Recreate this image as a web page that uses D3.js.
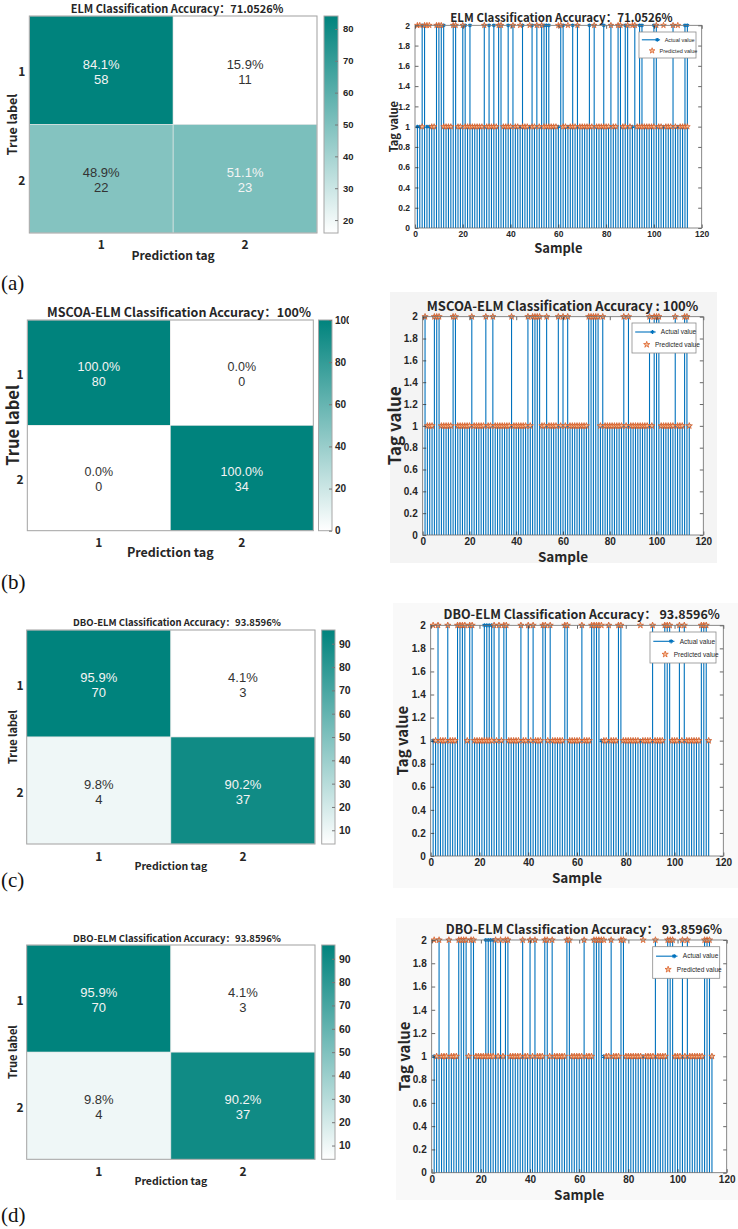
<!DOCTYPE html>
<html lang="en">
<head>
<meta charset="UTF-8">
<title>ELM / MSCOA-ELM / DBO-ELM classification</title>
<style>
  * { padding: 0; margin: 0; }
  body { background: #fff; }
  #app { width: 738px; height: 1229px; }
  #app svg { display: block; }
  text { font-family: "Liberation Sans", Arial, sans-serif; }
  .cjk { font-family: "Noto Sans CJK SC", "Noto Sans", sans-serif; font-weight: 700; }
  .serif { font-family: "Liberation Serif", "Times New Roman", serif; }
</style>
</head>
<body>
<div id="app"></div>
<script src="https://cdn.jsdelivr.net/npm/d3@7/dist/d3.min.js"></script>
<script>
  // ---- data ----
  var classLabels = ["1", "2"];
  var nSamples = 114;
  var tagTicks = [0, 0.2, 0.4, 0.6, 0.8, 1, 1.2, 1.4, 1.6, 1.8, 2];
  var sampleTicks = [0, 20, 40, 60, 80, 100, 120];

  // confusion counts, rows = true label, cols = predicted
  var aCounts = [[58, 11], [22, 23]];
  var bCounts = [[80, 0], [0, 34]];
  var cCounts = [[70, 3], [4, 37]];
  var dCounts = [[70, 3], [4, 37]];

  var aColorTicks = [20, 30, 40, 50, 60, 70, 80];
  var bColorTicks = [0, 20, 40, 60, 80, 100];
  var cColorTicks = [10, 20, 30, 40, 50, 60, 70, 80, 90];
  var dColorTicks = [10, 20, 30, 40, 50, 60, 70, 80, 90];

  // samples whose tag is 2 (all other samples are 1)
  var aActual2 = [3, 4, 9, 10, 11, 12, 16, 17, 20, 21, 23, 29, 31, 33, 35, 36, 39, 41, 45, 49, 51, 53, 54, 55, 56,
    61, 62, 66, 68, 73, 75, 79, 82, 85, 86, 88, 89, 92, 94, 95, 100, 101, 108, 113, 114];
  var aPred2 = [1, 2, 4, 5, 6, 9, 10, 11, 16, 17, 20, 29, 35, 36, 41, 44, 48, 51, 53, 60, 61, 64, 68, 75, 82, 85,
    86, 89, 91, 92, 101, 104, 108, 110];
  var bActual2 = [1, 5, 6, 7, 13, 14, 21, 27, 30, 38, 45, 47, 48, 49, 50, 53, 58, 60, 62, 71, 72, 73, 74, 75, 77,
    86, 88, 97, 99, 100, 101, 108, 112, 113];
  var bPred2 = [1, 5, 6, 7, 13, 14, 21, 27, 30, 38, 45, 47, 48, 49, 50, 53, 58, 60, 62, 71, 72, 73, 74, 75, 77,
    86, 88, 97, 99, 100, 101, 108, 112, 113];
  var cActual2 = [3, 7, 11, 12, 13, 14, 16, 17, 22, 23, 24, 25, 26, 28, 30, 31, 37, 40, 42, 46, 47, 49, 55, 56, 62,
    66, 67, 68, 69, 73, 77, 78, 91, 96, 97, 98, 102, 104, 111, 112, 113];
  var cPred2 = [1, 3, 7, 11, 12, 13, 14, 16, 17, 26, 28, 30, 31, 37, 40, 42, 46, 47, 49, 55, 56, 62, 66, 67, 68,
    69, 70, 73, 77, 78, 86, 91, 96, 97, 98, 102, 104, 111, 112, 113];
  var dActual2 = [3, 7, 11, 12, 13, 14, 16, 17, 22, 23, 24, 25, 26, 28, 30, 31, 37, 40, 42, 46, 47, 49, 55, 56, 62,
    66, 67, 68, 69, 73, 77, 78, 91, 96, 97, 98, 102, 104, 111, 112, 113];
  var dPred2 = [1, 3, 7, 11, 12, 13, 14, 16, 17, 26, 28, 30, 31, 37, 40, 42, 46, 47, 49, 55, 56, 62, 66, 67, 68,
    69, 70, 73, 77, 78, 86, 91, 96, 97, 98, 102, 104, 111, 112, 113];

  var teal = "#00837d";
  var stemBlue = "#0072bd";
  var predOrange = "#d95319";
  var ink = "#262626";

  var svg = d3.select("#app").append("svg").attr("width", 738).attr("height", 1229);
  var defs = svg.append("defs");

  function drawMatrix(cfg, id) {
    var pct = cfg.counts.map(function (r) {
      var s = d3.sum(r);
      return r.map(function (v) { return s ? v / s * 100 : 0; });
    });
    var flat = [].concat.apply([], pct);
    var lo = d3.min(flat), hi = d3.max(flat);
    var color = d3.scaleLinear().domain([lo, hi]).range(["#ffffff", teal]);
    var x = d3.scaleBand().domain(classLabels).range([cfg.x0, cfg.x1]);
    var y = d3.scaleBand().domain(classLabels).range([cfg.y0, cfg.y1]);
    var g = svg.append("g");

    var cells = d3.cross(d3.range(2), d3.range(2)).map(function (p) {
      return { r: p[0], c: p[1], n: cfg.counts[p[0]][p[1]], p: pct[p[0]][p[1]] };
    });
    g.selectAll("rect.cell").data(cells).join("rect")
      .attr("x", d => x(classLabels[d.c])).attr("y", d => y(classLabels[d.r]))
      .attr("width", x.bandwidth()).attr("height", y.bandwidth())
      .attr("fill", d => color(d.p)).attr("stroke", "#e8e8e8").attr("stroke-width", 0.6);
    g.append("rect").attr("x", cfg.x0).attr("y", cfg.y0)
      .attr("width", cfg.x1 - cfg.x0).attr("height", cfg.y1 - cfg.y0)
      .attr("fill", "none").attr("stroke", "#a6a6a6").attr("stroke-width", 1);

    var txt = g.selectAll("g.ctext").data(cells).join("g")
      .attr("transform", d => "translate(" + (x(classLabels[d.c]) + x.bandwidth() / 2) + "," +
        (y(classLabels[d.r]) + y.bandwidth() / 2 + 1) + ")")
      .attr("fill", d => (d.p - lo) / (hi - lo) > 0.5 ? "#f4f4f4" : "#333333")
      .attr("font-size", cfg.cellSize).attr("text-anchor", "middle");
    txt.append("text").attr("y", -7).attr("dy", "0.35em").text(d => d.p.toFixed(1) + "%");
    txt.append("text").attr("y", 8).attr("dy", "0.35em").text(d => d.n);

    // labels
    g.append("text").attr("class", "cjk").attr("x", cfg.titleX).attr("y", cfg.titleY).attr("dy", "0.35em")
      .attr("text-anchor", "middle").attr("font-size", cfg.titleSize).attr("fill", ink).text(cfg.title);
    g.selectAll("text.rowlab").data(classLabels).join("text").attr("class", "cjk")
      .attr("x", cfg.rowLabelX).attr("y", d => y(d) + y.bandwidth() / 2 + 2).attr("dy", "0.35em")
      .attr("text-anchor", "middle").attr("font-size", cfg.labelSize).attr("fill", ink).text(d => d);
    g.selectAll("text.collab").data(classLabels).join("text").attr("class", "cjk")
      .attr("x", d => x(d) + x.bandwidth() / 2).attr("y", cfg.tickLabelY).attr("dy", "0.35em")
      .attr("text-anchor", "middle").attr("font-size", cfg.labelSize).attr("fill", ink).text(d => d);
    g.append("text").attr("class", "cjk")
      .attr("transform", "translate(" + cfg.trueLabelX + "," + (cfg.y0 + cfg.y1) / 2 + ") rotate(-90)")
      .attr("dy", "0.35em").attr("text-anchor", "middle").attr("font-size", cfg.trueSize)
      .attr("fill", ink).text("True label");
    g.append("text").attr("class", "cjk").attr("x", (cfg.x0 + cfg.x1) / 2).attr("y", cfg.predY)
      .attr("dy", "0.35em").attr("text-anchor", "middle").attr("font-size", cfg.predSize)
      .attr("fill", ink).text("Prediction tag");

    // colour bar
    var grad = defs.append("linearGradient").attr("id", "cb" + id)
      .attr("x1", 0).attr("y1", 1).attr("x2", 0).attr("y2", 0);
    grad.append("stop").attr("offset", 0).attr("stop-color", "#ffffff");
    grad.append("stop").attr("offset", 1).attr("stop-color", teal);
    g.append("rect").attr("x", cfg.cbX0).attr("y", cfg.y0)
      .attr("width", cfg.cbX1 - cfg.cbX0).attr("height", cfg.y1 - cfg.y0)
      .attr("fill", "url(#cb" + id + ")").attr("stroke", "#a6a6a6");
    var cy = d3.scaleLinear().domain([lo, hi]).range([cfg.y1, cfg.y0]);
    defs.append("clipPath").attr("id", "cbclip" + id).append("rect")
      .attr("x", cfg.cbX0).attr("y", cfg.y0 - 20)
      .attr("width", cfg.clipRight - cfg.cbX0).attr("height", cfg.y1 - cfg.y0 + 40);
    var ax = g.append("g").attr("clip-path", "url(#cbclip" + id + ")")
      .append("g").attr("transform", "translate(" + cfg.cbX1 + ",0)")
      .call(d3.axisRight(cy).tickValues(cfg.ticks).tickSizeInner(-3).tickSizeOuter(0).tickPadding(cfg.cbPad));
    ax.select(".domain").remove();
    ax.selectAll("line").attr("stroke", "#777");
    ax.selectAll("text").attr("font-size", cfg.cbTickSize).attr("font-weight", 700).attr("fill", ink);
  }

  function drawStem(cfg) {
    var actual = d3.range(1, nSamples + 1).map(i => ({ i: i, v: cfg.actual2.indexOf(i) >= 0 ? 2 : 1 }));
    var pred = d3.range(1, nSamples + 1).map(i => ({ i: i, v: cfg.pred2.indexOf(i) >= 0 ? 2 : 1 }));
    var x = d3.scaleLinear().domain([0, 120]).range([cfg.x0, cfg.x1]);
    var y = d3.scaleLinear().domain([0, 2]).range([cfg.y1, cfg.y0]);
    var g = svg.append("g");

    if (cfg.bg) {
      g.append("rect").attr("x", cfg.bg[0]).attr("y", cfg.bg[1]).attr("width", cfg.bg[2])
        .attr("height", cfg.bg[3]).attr("fill", cfg.bgColor);
    }
    g.append("rect").attr("x", cfg.x0).attr("y", cfg.y0)
      .attr("width", cfg.x1 - cfg.x0).attr("height", cfg.y1 - cfg.y0).attr("fill", "#fff");

    g.selectAll("line.stem").data(actual).join("line")
      .attr("x1", d => x(d.i)).attr("x2", d => x(d.i))
      .attr("y1", y(0)).attr("y2", d => y(d.v))
      .attr("stroke", stemBlue).attr("stroke-width", 1.1);

    var ast = d3.symbol().type(d3.symbolAsterisk || d3.symbolCross).size(cfg.markSize);
    var star = d3.symbol().type(d3.symbolStar).size(cfg.markSize);
    g.selectAll("path.act").data(actual).join("path")
      .attr("transform", d => "translate(" + x(d.i) + "," + y(d.v) + ")")
      .attr("d", ast).attr("fill", stemBlue).attr("stroke", stemBlue).attr("stroke-width", 1.2);
    g.selectAll("path.pred").data(pred).join("path")
      .attr("transform", d => "translate(" + x(d.i) + "," + y(d.v) + ")")
      .attr("d", star).attr("fill", "#f6c09a").attr("stroke", predOrange).attr("stroke-width", 0.7);

    // axes, ticks pointing inward like MATLAB with box on
    function style(a) {
      a.select(".domain").remove();
      a.selectAll("line").attr("stroke", ink).attr("stroke-width", 0.7);
      a.selectAll("text").attr("font-size", cfg.tickSize).attr("font-weight", 700).attr("fill", ink);
    }
    var fmt = d3.format("~g");
    g.append("g").attr("transform", "translate(0," + cfg.y1 + ")")
      .call(d3.axisBottom(x).tickValues(sampleTicks).tickFormat(fmt).tickSizeInner(-3.5).tickSizeOuter(0).tickPadding(3))
      .call(style);
    g.append("g").attr("transform", "translate(" + cfg.x0 + ",0)")
      .call(d3.axisLeft(y).tickValues(tagTicks).tickFormat(fmt).tickSizeInner(-3.5).tickSizeOuter(0).tickPadding(5))
      .call(style);
    g.append("g").attr("transform", "translate(0," + cfg.y0 + ")")
      .call(d3.axisTop(x).tickValues(sampleTicks).tickFormat("").tickSizeInner(-3.5).tickSizeOuter(0))
      .call(style);
    g.append("g").attr("transform", "translate(" + cfg.x1 + ",0)")
      .call(d3.axisRight(y).tickValues(tagTicks).tickFormat("").tickSizeInner(-3.5).tickSizeOuter(0))
      .call(style);
    g.append("rect").attr("x", cfg.x0).attr("y", cfg.y0)
      .attr("width", cfg.x1 - cfg.x0).attr("height", cfg.y1 - cfg.y0)
      .attr("fill", "none").attr("stroke", "#6b6b6b").attr("stroke-width", 0.8);

    g.append("text").attr("class", "cjk").attr("x", cfg.titleX).attr("y", cfg.titleY).attr("dy", "0.35em")
      .attr("text-anchor", "middle").attr("font-size", cfg.titleSize).attr("fill", ink).text(cfg.title);
    g.append("text").attr("class", "cjk")
      .attr("transform", "translate(" + cfg.tagX + "," + (cfg.y0 + cfg.y1) / 2 + ") rotate(-90)")
      .attr("dy", "0.35em").attr("text-anchor", "middle").attr("font-size", cfg.tagSize)
      .attr("fill", ink).text("Tag value");
    g.append("text").attr("class", "cjk").attr("x", (cfg.x0 + cfg.x1) / 2).attr("y", cfg.sampleY)
      .attr("dy", "0.35em").attr("text-anchor", "middle").attr("font-size", cfg.sampleSize)
      .attr("fill", ink).text("Sample");

    // legend
    var L = cfg.leg, lg = g.append("g").attr("transform", "translate(" + L[0] + "," + L[1] + ")");
    lg.append("rect").attr("width", L[2]).attr("height", L[3]).attr("fill", "#fff")
      .attr("stroke", "#8c8c8c").attr("stroke-width", 0.8);
    var r1 = L[3] * 0.3, r2 = L[3] * 0.72;
    lg.append("line").attr("x1", L[2] * 0.05).attr("x2", L[2] * 0.37).attr("y1", r1).attr("y2", r1)
      .attr("stroke", stemBlue).attr("stroke-width", 1.1);
    lg.append("path").attr("transform", "translate(" + L[2] * 0.32 + "," + r1 + ")")
      .attr("d", ast).attr("fill", stemBlue).attr("stroke", stemBlue).attr("stroke-width", 1.2);
    lg.append("path").attr("transform", "translate(" + L[2] * 0.23 + "," + r2 + ")")
      .attr("d", star).attr("fill", "#f6c09a").attr("stroke", predOrange).attr("stroke-width", 0.7);
    lg.append("text").attr("x", L[2] * 0.45).attr("y", r1).attr("dy", "0.35em")
      .attr("font-size", cfg.legSize).attr("fill", ink).text("Actual value");
    lg.append("text").attr("x", L[2] * 0.36).attr("y", r2).attr("dy", "0.35em")
      .attr("font-size", cfg.legSize).attr("fill", ink).text("Predicted value");
  }

  function panelLabel(txt, yb) {
    svg.append("text").attr("class", "serif").attr("x", 1).attr("y", yb)
      .attr("font-size", 21).attr("fill", "#111").text(txt);
  }

  // ---- layout ----
  drawMatrix({ counts: aCounts, ticks: aColorTicks, title: "ELM Classification Accuracy：71.0526%",
    x0: 29.3, x1: 317, y0: 16, y1: 233, cbX0: 324, cbX1: 338, clipRight: 370, cbPad: 5,
    titleX: 177, titleY: 9.5, titleSize: 11, rowLabelX: 21.7, labelSize: 12, trueLabelX: 13, trueSize: 12.5,
    tickLabelY: 245, predY: 255.5, predSize: 12, cellSize: 13, cbTickSize: 9.5 }, "a");
  drawStem({ actual2: aActual2, pred2: aPred2, title: "ELM Classification Accuracy：71.0526%",
    x0: 415, x1: 701.7, y0: 25.3, y1: 228, titleX: 561.5, titleY: 17.5, titleSize: 11.5,
    tickSize: 8.5, tagX: 394, tagSize: 11, sampleY: 248.5, sampleSize: 13, markSize: 10,
    leg: [639, 32, 57, 26], legSize: 5.5 });

  drawMatrix({ counts: bCounts, ticks: bColorTicks, title: "MSCOA-ELM Classification Accuracy：100%",
    x0: 27.3, x1: 313.3, y0: 320, y1: 530.7, cbX0: 318.5, cbX1: 332, clipRight: 349, cbPad: 3,
    titleX: 179, titleY: 312.7, titleSize: 12.5, rowLabelX: 20, labelSize: 12, trueLabelX: 13, trueSize: 16.5,
    tickLabelY: 543, predY: 553, predSize: 12.5, cellSize: 12.5, cbTickSize: 10 }, "b");
  drawStem({ actual2: bActual2, pred2: bPred2, title: "MSCOA-ELM Classification Accuracy : 100%",
    x0: 422.7, x1: 703.3, y0: 316.7, y1: 535, titleX: 562.5, titleY: 306.7, titleSize: 13,
    tickSize: 10, tagX: 395, tagSize: 17, sampleY: 557, sampleSize: 13.5, markSize: 12,
    leg: [632, 323, 64, 30], legSize: 6.5, bg: [390, 292, 327, 271], bgColor: "#f4f4f4" });

  drawMatrix({ counts: cCounts, ticks: cColorTicks, title: "DBO-ELM Classification Accuracy：93.8596%",
    x0: 26.7, x1: 315, y0: 630, y1: 844, cbX0: 321.7, cbX1: 335, clipRight: 370, cbPad: 4,
    titleX: 177, titleY: 622.7, titleSize: 9.5, rowLabelX: 20, labelSize: 12, trueLabelX: 13, trueSize: 11,
    tickLabelY: 856.7, predY: 866.5, predSize: 10.5, cellSize: 13, cbTickSize: 10.5 }, "c");
  drawStem({ actual2: cActual2, pred2: cPred2, title: "DBO-ELM Classification Accuracy：  93.8596%",
    x0: 430.7, x1: 723.3, y0: 625.3, y1: 856, titleX: 581.7, titleY: 615, titleSize: 12.5,
    tickSize: 10, tagX: 402.7, tagSize: 15, sampleY: 878.5, sampleSize: 13.5, markSize: 12,
    leg: [650, 632, 66, 31], legSize: 6.5, bg: [393, 603, 345, 285], bgColor: "#f9f9f9" });

  drawMatrix({ counts: dCounts, ticks: dColorTicks, title: "DBO-ELM Classification Accuracy：93.8596%",
    x0: 26.7, x1: 315, y0: 945, y1: 1159.3, cbX0: 321.7, cbX1: 335, clipRight: 370, cbPad: 4,
    titleX: 177, titleY: 938.3, titleSize: 9.5, rowLabelX: 20, labelSize: 12, trueLabelX: 13, trueSize: 11,
    tickLabelY: 1171.7, predY: 1181.8, predSize: 10.5, cellSize: 13, cbTickSize: 10.5 }, "d");
  drawStem({ actual2: dActual2, pred2: dPred2, title: "DBO-ELM Classification Accuracy：  93.8596%",
    x0: 431.7, x1: 726.7, y0: 940, y1: 1172.7, titleX: 584, titleY: 930, titleSize: 12.5,
    tickSize: 10, tagX: 405, tagSize: 15, sampleY: 1195, sampleSize: 13.5, markSize: 12,
    leg: [652.7, 946.7, 67, 31.6], legSize: 6.5, bg: [396, 918, 342, 282], bgColor: "#f9f9f9" });

  panelLabel("(a)", 290);
  panelLabel("(b)", 589);
  panelLabel("(c)", 887);
  panelLabel("(d)", 1222);
</script>
</body>
</html>
